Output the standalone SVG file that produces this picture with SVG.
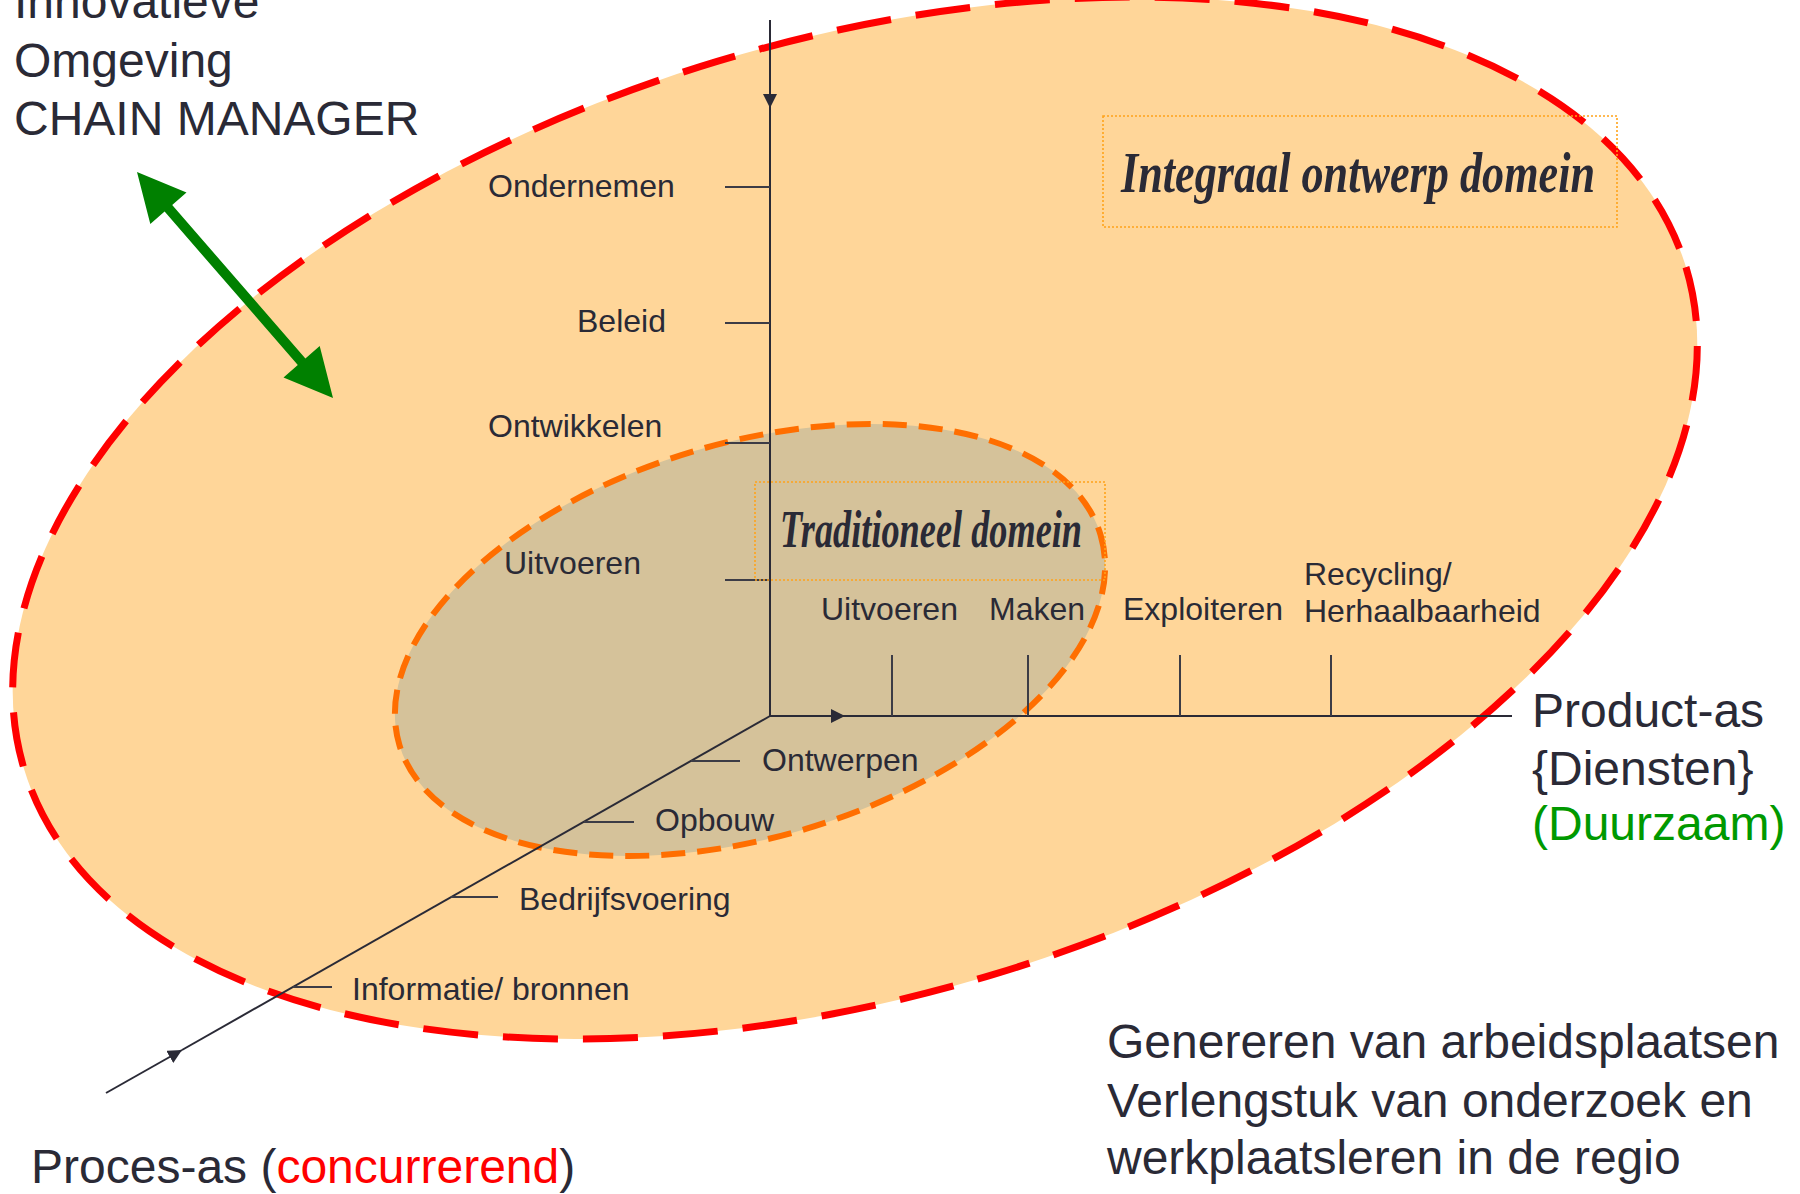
<svg xmlns="http://www.w3.org/2000/svg" width="1800" height="1194" viewBox="0 0 1800 1194">
<style>
text{font-family:"Liberation Sans",Arial,sans-serif;fill:#2a2a36}
.lbl{font-size:32px}
.big{font-size:48px}
.script{font-family:"Liberation Serif","DejaVu Serif",serif;font-style:italic;font-weight:bold}
.axis{stroke:#2a2a36;stroke-width:2;fill:none}
.tick{stroke:#3c3c46;stroke-width:2;fill:none}
.box{fill:none;stroke:#FFA31A;stroke-width:1.6;stroke-dasharray:2 2}
</style>
<defs>
<marker id="ah" viewBox="0 0 10 10" refX="10" refY="5" markerWidth="14" markerHeight="14" markerUnits="userSpaceOnUse" orient="auto">
<path d="M0,0 L10,5 L0,10 z" fill="#2a2a36"/>
</marker>
</defs>
<rect width="1800" height="1194" fill="#ffffff"/>
<g id="outer-domain">
<ellipse cx="855" cy="518" rx="868" ry="477" transform="rotate(-16.8 855 518)" fill="#FFD699" stroke="#FF0000" stroke-width="7" stroke-dasharray="55 25"/>
</g>
<g id="inner-domain">
<ellipse cx="750" cy="640" rx="366" ry="197" transform="rotate(-16.7 750 640)" fill="#D5C29A" stroke="#FF6E00" stroke-width="6" stroke-dasharray="24 12"/>
</g>
<g id="connectors">
<line class="axis" x1="770" y1="20" x2="770" y2="108" marker-end="url(#ah)"/>
<line class="axis" x1="770" y1="108" x2="770" y2="716"/>
<line class="axis" x1="770" y1="716" x2="845" y2="716" marker-end="url(#ah)"/>
<line class="axis" x1="845" y1="716" x2="1512" y2="716"/>
<line class="axis" x1="106" y1="1093" x2="182" y2="1050" marker-end="url(#ah)"/>
<line class="axis" x1="182" y1="1050" x2="770" y2="716"/>
<line class="tick" x1="725" y1="187" x2="770" y2="187"/>
<line class="tick" x1="725" y1="323" x2="770" y2="323"/>
<line class="tick" x1="725" y1="443" x2="770" y2="443"/>
<line class="tick" x1="725" y1="580" x2="770" y2="580"/>
<line class="tick" x1="892" y1="655" x2="892" y2="716"/>
<line class="tick" x1="1028" y1="655" x2="1028" y2="716"/>
<line class="tick" x1="1180" y1="655" x2="1180" y2="716"/>
<line class="tick" x1="1331" y1="655" x2="1331" y2="716"/>
<line class="tick" x1="691" y1="761" x2="740" y2="761"/>
<line class="tick" x1="584" y1="822" x2="634" y2="822"/>
<line class="tick" x1="451" y1="897" x2="498" y2="897"/>
<line class="tick" x1="293" y1="987" x2="332" y2="987"/>
</g>
<g id="integraal-label">
<rect class="box" x="1103" y="116" width="514" height="111"/>
<text class="script" x="1121" y="192" font-size="58" textLength="474" lengthAdjust="spacingAndGlyphs">Integraal ontwerp domein</text>
</g>
<g id="traditioneel-label">
<rect class="box" x="755" y="482" width="350" height="98"/>
<text class="script" x="780" y="547" font-size="52" textLength="302" lengthAdjust="spacingAndGlyphs">Traditioneel domein</text>
</g>
<g id="chain-manager">
<text class="big" x="14" y="18">Innovatieve</text>
<text class="big" x="14" y="77">Omgeving</text>
<text class="big" x="14" y="135">CHAIN MANAGER</text>
</g>
<g id="chain-arrow">
<polygon fill="#008000" points="137,172 150.3,224 164.6,211.6 297.8,365 283.5,377.4 333,398 319.7,346 305.4,358.4 172.2,205 186.5,192.6"/>
</g>
<g id="vertical-labels">
<text class="lbl" x="488" y="197">Ondernemen</text>
<text class="lbl" x="577" y="332">Beleid</text>
<text class="lbl" x="488" y="437">Ontwikkelen</text>
<text class="lbl" x="504" y="574">Uitvoeren</text>
</g>
<g id="product-labels">
<text class="lbl" x="821" y="620">Uitvoeren</text>
<text class="lbl" x="989" y="620">Maken</text>
<text class="lbl" x="1123" y="620">Exploiteren</text>
<text class="lbl" x="1304" y="585">Recycling/</text>
<text class="lbl" x="1304" y="622">Herhaalbaarheid</text>
</g>
<g id="process-labels">
<text class="lbl" x="762" y="771">Ontwerpen</text>
<text class="lbl" x="655" y="831">Opbouw</text>
<text class="lbl" x="519" y="910">Bedrijfsvoering</text>
<text class="lbl" x="352" y="1000">Informatie/ bronnen</text>
</g>
<g id="product-axis-title">
<text class="big" x="1532" y="727">Product-as</text>
<text class="big" x="1532" y="785">{Diensten}</text>
<text class="big" x="1532" y="840" style="fill:#009900">(Duurzaam)</text>
</g>
<g id="process-axis-title">
<text class="big" x="31" y="1183">Proces-as (<tspan style="fill:#FF0000">concurrerend</tspan>)</text>
</g>
<g id="regio-text">
<text class="big" x="1107" y="1058">Genereren van arbeidsplaatsen</text>
<text class="big" x="1107" y="1117">Verlengstuk van onderzoek en</text>
<text class="big" x="1107" y="1174">werkplaatsleren in de regio</text>
</g>
</svg>
